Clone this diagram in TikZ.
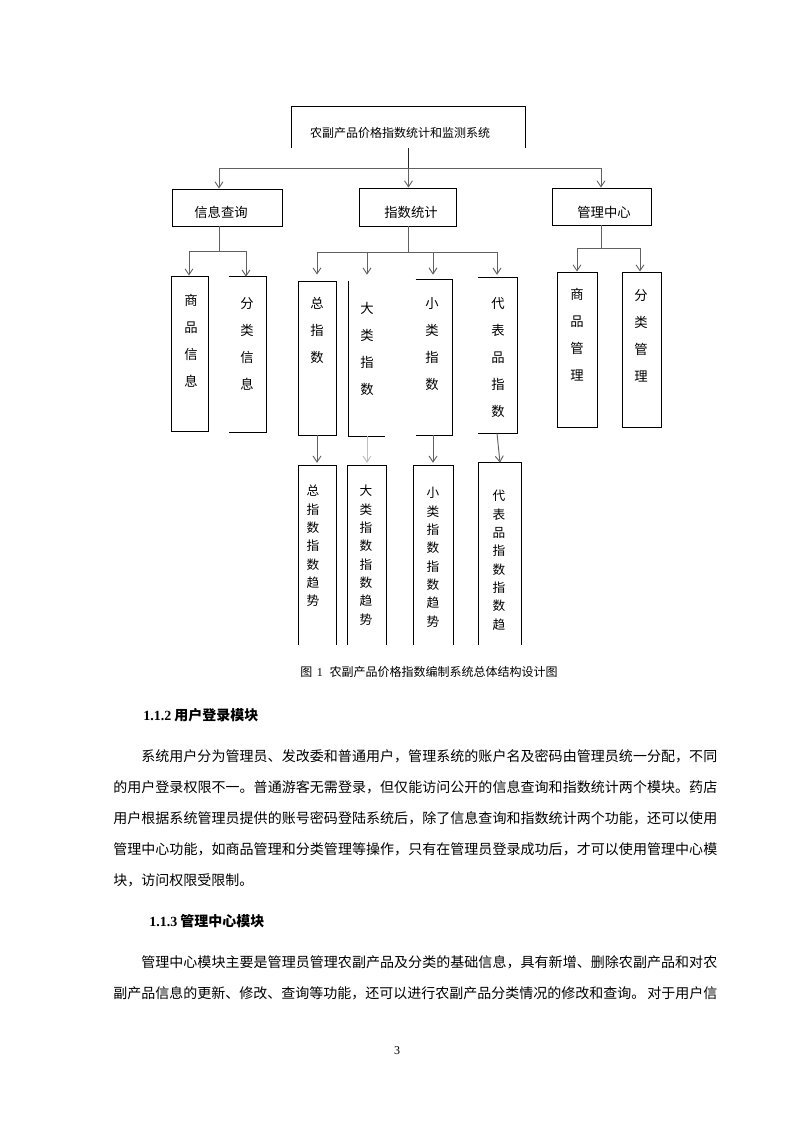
\documentclass[tikz,border=0pt]{standalone}
\usepackage{fontspec}
\setmainfont{Liberation Serif}
\newfontfamily\cjk{Noto Sans CJK SC}
\newfontfamily\song{Noto Sans CJK SC}
\usetikzlibrary{arrows.meta,fit}
\def\sprd#1{#1\sprdnext}
\def\sprdnext#1{\ifx#1\relax\else\hskip 0pt plus 1fil #1\expandafter\sprdnext\fi}
\tikzset{
  box/.style={draw=black, line width=0.6pt, inner sep=0pt},
  frame/.style={inner sep=0pt},
  edge/.style={draw=black, line width=0.6pt},
  conn/.style={draw=black!62, line width=0.7pt},
  arr/.style={conn, -{Straight Barb[length=4.5pt,width=6pt]}},
  vt/.style={font=\cjk\fontsize{10}{20.25}\selectfont, align=center, inner sep=0pt, anchor=north},
  vtf/.style={font=\cjk\fontsize{9.5}{13.75}\selectfont, align=center, inner sep=0pt, anchor=north},
  lab/.style={font=\cjk\fontsize{10}{12}\selectfont, inner sep=0pt},
  body/.style={font=\song\fontsize{10.5}{12}\selectfont, inner sep=0pt, anchor=west},
}
\begin{document}
\begin{tikzpicture}[x=0.75pt,y=-0.75pt]
\fill[white] (0,0) rectangle (793,1122);
\useasboundingbox (0,0) rectangle (793,1122);

% ---- top box (open bottom)
\node[frame, fit={(292,107)(525,148)}] (top) {};
\draw[edge] (top.south west) -- (top.north west) -- (top.north east) -- (top.south east);
\node[lab, font=\cjk\fontsize{9}{11}\selectfont] (toptxt) at (400,133) {农副产品价格指数统计和监测系统};

% ---- level 2
\node[box, fit={(172,189)(282,226)}] (xx) {};
\node[box, fit={(359,188)(456,226)}] (zs) {};
\node[box, fit={(552,188)(651,225)}] (gl) {};
\node[lab] (xxt) at (221,212) {信息查询};
\node[lab] (zst) at (411,212) {指数统计};
\node[lab] (glt) at (604,212) {管理中心};

\coordinate (barL) at (219,168);
\coordinate (barR) at (601,168);
\draw[conn, draw=black!85, line width=1.3pt] (top.south) -- (top.south |- barL);
\draw[conn] (barL) -- (barR);
\draw[arr] (barL) -- (barL |- xx.north);
\draw[arr] (top.south |- barL) -- (top.south |- zs.north);
\draw[arr] (barR) -- (barR |- gl.north);

% ---- level 3 boxes
\node[box, fit={(171,276)(208,431)}] (sp) {};
\node[frame, fit={(229,277)(266,432)}] (fl) {};
\draw[edge] (fl.north west) -- (fl.north east) -- (fl.south east) -- (fl.south west);
\node[box, fit={(298,281)(336,435)}] (zzs) {};
\node[frame, fit={(349,281)(385,436)}] (dl) {};
\draw[edge] (dl.north west) -- (dl.south west) -- (dl.south east);
\node[frame, fit={(416,280)(452,435)}] (xl) {};
\draw[edge] (xl.north west) -- (xl.north east) -- (xl.south east) -- (xl.south west);
\node[frame, fit={(478,278)(517,433)}] (db) {};
\draw[edge] (db.north west) -- (db.north east) -- (db.south east) -- (db.south west);
\node[box, fit={(557,272)(597,427)}] (spgl) {};
\node[box, fit={(622,272)(661,427)}] (flgl) {};

% level 3 texts
\node[vt] (tsp) at (191,294) {商\\品\\信\\息};
\node[vt] (tfl) at (247,297) {分\\类\\信\\息};
\node[vt] (tzzs) at (317,297) {总\\指\\数};
\node[vt] (tdl) at (367,302) {大\\类\\指\\数};
\node[vt] (txl) at (432,297) {小\\类\\指\\数};
\node[vt] (tdb) at (498,297) {代\\表\\品\\指\\数};
\node[vt] (tspgl) at (577,288) {商\\品\\管\\理};
\node[vt] (tflgl) at (641,289) {分\\类\\管\\理};

% level 2 -> 3 connectors
\coordinate (a1) at (219,251);
\draw[conn] (a1 |- xx.south) -- (a1);
\coordinate (a1L) at (189,251);
\coordinate (a1R) at (246,251);
\draw[conn] (a1L) -- (a1R);
\draw[arr] (a1L) -- (a1L |- sp.north);
\draw[arr] (a1R) -- (a1R |- fl.north);

\coordinate (a2) at (408,252);
\draw[conn] (a2 |- zs.south) -- (a2);
\coordinate (a2A) at (317,252);
\coordinate (a2B) at (367,252);
\coordinate (a2C) at (433,252);
\coordinate (a2D) at (497,252);
\draw[conn] (a2A) -- (a2D);
\draw[arr, shorten >=4.5pt] (a2A) -- (a2A |- zzs.north);
\draw[arr, shorten >=4.5pt] (a2B) -- (a2B |- dl.north);
\draw[arr, shorten >=3.8pt] (a2C) -- (a2C |- xl.north);
\draw[arr, shorten >=2.2pt] (a2D) -- (a2D |- db.north);

\coordinate (a3) at (601,248);
\draw[conn] (a3 |- gl.south) -- (a3);
\coordinate (a3L) at (577,248);
\coordinate (a3R) at (640,248);
\draw[conn] (a3L) -- (a3R);
\draw[arr] (a3L) -- (a3L |- spgl.north);
\draw[arr] (a3R) -- (a3R |- flgl.north);

% ---- level 4 boxes (open bottom)
\node[frame, fit={(299,466)(336,645)}] (zq) {};
\draw[edge] (zq.south west) -- (zq.north west) -- (zq.north east) -- (zq.south east);
\node[frame, fit={(348,466)(386,645)}] (dq) {};
\draw[edge] (dq.south west) -- (dq.north west) -- (dq.north east) -- (dq.south east);
\node[frame, fit={(414,466)(453,645)}] (xq) {};
\draw[edge] (xq.south west) -- (xq.north west) -- (xq.north east) -- (xq.south east);
\node[frame, fit={(479,463)(521,645)}] (dbq) {};
\draw[edge] (dbq.south west) -- (dbq.north west) -- (dbq.north east) -- (dbq.south east);

\node[vtf] (tzq) at (313,485) {总\\指\\数\\指\\数\\趋\\势};
\node[vtf] (tdq) at (366,485) {大\\类\\指\\数\\指\\数\\趋\\势};
\node[vtf] (txq) at (433,487) {小\\类\\指\\数\\指\\数\\趋\\势};
\node[vtf] (tdbq) at (499,490) {代\\表\\品\\指\\数\\指\\数\\趋};

% level 3 -> 4 connectors
\draw[arr, shorten >=2.2pt] (zzs.south -| a2A) -- (zq.north -| a2A);
\draw[arr, draw=black!25, shorten >=2.2pt] (dl.south -| a2B) -- (dq.north -| a2B);
\draw[arr, shorten >=2.2pt] (xl.south -| a2C) -- (xq.north -| a2C);
\draw[arr] (db.south -| a2D) -- (dbq.north);

% ---- caption and text
\node[body, font=\song\fontsize{9}{11}\selectfont] (cap) at (300,672) {图\hspace{3.5pt}{\rmfamily 1}\hspace{5pt}农副产品价格指数编制系统总体结构设计图};

\node[body] (h2) at (143,715) {{\rmfamily\bfseries 1.1.2} {\song\bfseries 用户登录模块}};

\node[body] (p1a) at (141,756) {\hbox to 432pt{\sprd 系统用户分为管理员、发改委和普通用户，管理系统的账户名及密码由管理员统一分配，不同\relax}};
\node[body] (p1b) at (113,787) {\hbox to 453pt{\sprd 的用户登录权限不一。普通游客无需登录，但仅能访问公开的信息查询和指数统计两个模块。药店\relax}};
\node[body] (p1c) at (113,818) {\hbox to 453pt{\sprd 用户根据系统管理员提供的账号密码登陆系统后，除了信息查询和指数统计两个功能，还可以使用\relax}};
\node[body] (p1d) at (113,849) {\hbox to 453pt{\sprd 管理中心功能，如商品管理和分类管理等操作，只有在管理员登录成功后，才可以使用管理中心模\relax}};
\node[body] (p1e) at (113,880) {块，访问权限受限制。};

\node[body] (h3) at (149,921) {{\rmfamily\bfseries 1.1.3} {\song\bfseries 管理中心模块}};

\node[body] (p2a) at (141,962) {\hbox to 432pt{\sprd 管理中心模块主要是管理员管理农副产品及分类的基础信息，具有新增、删除农副产品和对农\relax}};
\node[body] (p2b) at (113,993) {\hbox to 453pt{\sprd 副产品信息的更新、修改、查询等功能，还可以进行农副产品分类情况的修改和查询。\ 对于用户信\relax}};

\node[body, anchor=center, font=\rmfamily\fontsize{9}{11}\selectfont] (pg) at (397,1051) {3};
\end{tikzpicture}
\end{document}
